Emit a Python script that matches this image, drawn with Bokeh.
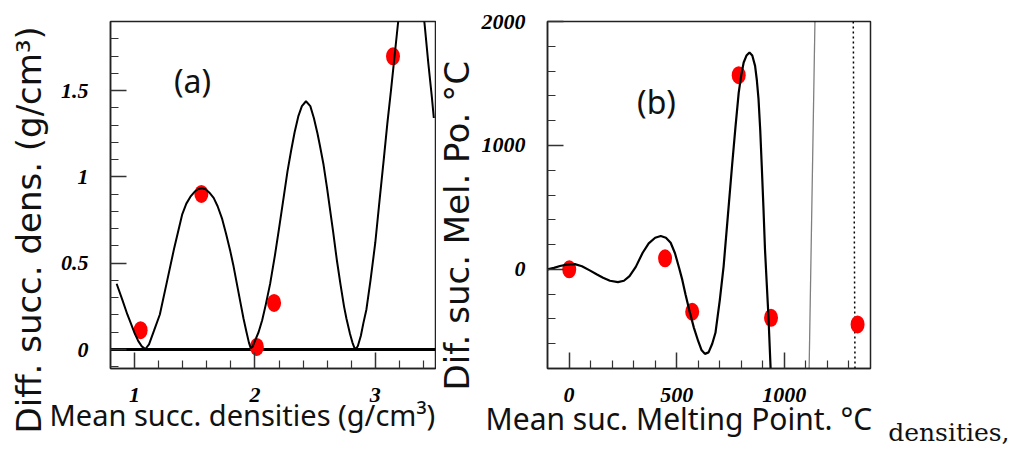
from bokeh.plotting import figure
from bokeh.layouts import row
from bokeh.models import FixedTicker, Label, Range1d, Title
from bokeh.embed import file_html
from bokeh.resources import INLINE

# ---------------- Panel (a): densities ----------------
a_curve_x = [0.851, 0.90, 0.94, 0.97, 1.00, 1.03, 1.06, 1.09, 1.12, 1.16, 1.21, 1.27, 1.33, 1.395,
             1.43, 1.464, 1.50, 1.53, 1.56, 1.59, 1.62, 1.657, 1.69, 1.726, 1.76, 1.795, 1.82, 1.85,
             1.88, 1.905, 1.93, 1.95, 1.965, 1.98, 2.00, 2.03, 2.06, 2.09, 2.126, 2.167, 2.20, 2.236,
             2.27, 2.30, 2.33, 2.36, 2.39, 2.424, 2.46, 2.49, 2.52, 2.54, 2.57, 2.60, 2.63, 2.65,
             2.68, 2.71, 2.74, 2.76, 2.79, 2.81, 2.825, 2.838, 2.855, 2.88, 2.90, 2.926, 2.96, 3.00,
             3.036, 3.07, 3.10, 3.13, 3.16, 3.19, 3.22, 3.26, 3.30, 3.34, 3.38, 3.41, 3.44, 3.47, 3.486]
a_curve_y = [0.381, 0.285, 0.203, 0.15, 0.095, 0.05, 0.018, 0.003, 0.03, 0.106, 0.203, 0.396, 0.59,
             0.781, 0.845, 0.885, 0.915, 0.930, 0.934, 0.928, 0.91, 0.878, 0.83, 0.76, 0.67, 0.57,
             0.49, 0.38, 0.27, 0.18, 0.10, 0.04, 0.008, 0.015, 0.05, 0.10, 0.17, 0.26, 0.38, 0.55,
             0.70, 0.87, 1.03, 1.15, 1.26, 1.35, 1.41, 1.438, 1.41, 1.34, 1.25, 1.18, 1.07, 0.93,
             0.78, 0.68, 0.52, 0.38, 0.25, 0.18, 0.09, 0.04, 0.012, 0.002, 0.02, 0.08, 0.15, 0.232,
             0.40, 0.62, 0.87, 1.10, 1.31, 1.50, 1.70, 1.90, 2.06, 2.20, 2.26, 2.22, 2.08, 1.88,
             1.66, 1.46, 1.341]
a_pts_x = [1.05, 1.555, 2.016, 2.159, 3.147]
a_pts_y = [0.112, 0.901, 0.015, 0.270, 1.698]
a_zero_x = [0.8, 3.5]
a_zero_y = [0.0, 0.0]
a_xticks = [1, 2, 3]
a_xtick_labels = ["1", "2", "3"]
a_xminor = [1.2, 1.4, 1.6, 1.8, 2.2, 2.4, 2.6, 2.8, 3.2, 3.4]
a_yticks = [0, 0.5, 1, 1.5]
a_ytick_labels = ["0", "0.5", "1", "1.5"]
a_yminor = [-0.1, 0.1, 0.2, 0.3, 0.4, 0.6, 0.7, 0.8, 0.9, 1.1, 1.2, 1.3, 1.4, 1.6, 1.7, 1.8]

# ---------------- Panel (b): melting points ----------------
b_curve_x = [-100, -70, -42, -10, 27, 60, 96, 130, 158, 190, 227, 255, 281, 310, 342, 370, 400, 426,
             450, 472, 492, 511, 526, 541, 560, 580, 600, 615, 631, 648, 665, 680, 700, 718, 737,
             757, 773, 788, 800, 811, 824, 838, 851, 864, 872, 880, 888, 895, 903, 910, 918, 926,
             936, 945]
b_curve_y = [0, 12, 27, 38, 42, 25, -8, -42, -68, -92, -103, -92, -54, 20, 134, 210, 255, 269, 255,
             215, 130, 13, -85, -202, -340, -472, -580, -650, -682, -670, -600, -512, -250, 27, 420,
             834, 1150, 1426, 1570, 1669, 1725, 1750, 1725, 1642, 1530, 1373, 1120, 834, 490, 162,
             -110, -377, -795, -1100]
b_pts_x = [1, 446, 572, 788, 938, 1340]
b_pts_y = [0, 89, -342, 1567, -391, -444]
b_thin_x = [1115, 1142]
b_thin_y = [-800, 2000]
b_dot_x = [1328, 1320]
b_dot_y = [-800, 2000]
b_xticks = [0, 500, 1000]
b_xtick_labels = ["0", "500", "1000"]
b_xminor = [100, 200, 300, 400, 600, 700, 800, 900, 1100, 1200, 1300]
b_yticks = [0, 1000, 2000]
b_ytick_labels = ["0", "1000", "2000"]
b_yminor = [-600, -400, -200, 200, 400, 600, 800, 1200, 1400, 1600, 1800]

TICK_FONT = "Liberation Serif"
XT_FONT = "Noto Sans"
YT_FONT = "DejaVu Sans"
INK = "#111111"
H = 449


def style(p, xt, xl, xm, yt, yl, ym, fs):
    p.grid.visible = False
    p.outline_line_color = "#222222"
    p.outline_line_width = 1.5
    p.background_fill_color = "white"
    p.border_fill_color = "white"
    for ax, t, l, m in ((p.xaxis[0], xt, xl, xm), (p.yaxis[0], yt, yl, ym)):
        ax.ticker = FixedTicker(ticks=t, minor_ticks=m)
        ax.major_label_overrides = {float(v): s for v, s in zip(t, l)}
        ax.major_tick_in = 16
        ax.major_tick_out = 0
        ax.minor_tick_in = 8
        ax.minor_tick_out = 0
        ax.major_tick_line_color = "#333333"
        ax.minor_tick_line_color = "#333333"
        ax.major_tick_line_width = 1.5
        ax.minor_tick_line_width = 1.2
        ax.axis_line_color = "#222222"
        ax.axis_line_width = 1.5
        ax.major_label_text_font = TICK_FONT
        ax.major_label_text_font_style = "bold italic"
        ax.major_label_text_font_size = fs
        ax.major_label_text_color = "black"
    p.xaxis[0].major_label_standoff = 19
    p.yaxis[0].major_label_standoff = 22


def title(p, side, t, font, size, align, offset, standoff, valign):
    kw = dict(text=t, align=align, offset=offset, vertical_align=valign, text_font=font,
              text_font_size=size, text_font_style="normal", text_color=INK)
    try:
        tt = Title(standoff=standoff, **kw)
    except Exception:
        tt = Title(standoff=max(standoff, 0), **kw)
    p.add_layout(tt, side)


# ---- figure (a) ---- page x 0..436, frame 110..435, y 21..368
pa = figure(width=436, height=H, x_range=Range1d(0.8, 3.5), y_range=Range1d(-0.11, 1.9),
            min_border_left=110, min_border_right=1, min_border_top=21, min_border_bottom=81,
            toolbar_location=None, output_backend="svg", title=None)
style(pa, a_xticks, a_xtick_labels, a_xminor, a_yticks, a_ytick_labels, a_yminor, "22px")
pa.line(a_zero_x, a_zero_y, line_color="black", line_width=3)
pa.ellipse(a_pts_x, a_pts_y, width=14, height=18, width_units="screen", height_units="screen",
           fill_color="#ff0000", line_color=None)
pa.line(a_curve_x, a_curve_y, line_color="black", line_width=2)
pa.add_layout(Label(x=82, y=288, x_units="screen", y_units="screen", text="(a)",
                    text_font=XT_FONT, text_font_size="32px", text_align="center",
                    text_baseline="middle", text_color=INK))
title(pa, "below", "Mean succ. densities (g/cm³)", XT_FONT, "29px", "left", -61, -24, "bottom")
title(pa, "left", "Diff. succ. dens. (g/cm³)", YT_FONT, "34px", "left", -65, 14, "top")

# ---- figure (b) ---- page x 436..1013, frame 544..870
pb = figure(width=577, height=H, x_range=Range1d(-100, 1400), y_range=Range1d(-800, 2000),
            min_border_left=108, min_border_right=143, min_border_top=21, min_border_bottom=81,
            toolbar_location=None, output_backend="svg", title=None)
style(pb, b_xticks, b_xtick_labels, b_xminor, b_yticks, b_ytick_labels, b_yminor, "22px")
pb.line(b_thin_x, b_thin_y, line_color="black", line_width=1.3, line_dash="1 1")
pb.line(b_dot_x, b_dot_y, line_color="black", line_width=1.5, line_dash="2 3")
pb.ellipse(b_pts_x, b_pts_y, width=14, height=18, width_units="screen", height_units="screen",
           fill_color="#ff0000", line_color=None)
pb.line(b_curve_x, b_curve_y, line_color="black", line_width=2.2)
pb.add_layout(Label(x=109, y=267, x_units="screen", y_units="screen", text="(b)",
                    text_font=XT_FONT, text_font_size="32px", text_align="center",
                    text_baseline="middle", text_color=INK))
title(pb, "below", "Mean suc. Melting Point. °C", XT_FONT, "30px", "left", -62, -18, "bottom")
title(pb, "below", "densities,", "DejaVu Serif", "25px", "right", -139, -27, "bottom")
title(pb, "left", "Dif. suc. Mel. Po. °C", YT_FONT, "34px", "left", -22, 0, "top")

layout = row(pa, pb)
open("out.html", "w").write(file_html(layout, INLINE))
